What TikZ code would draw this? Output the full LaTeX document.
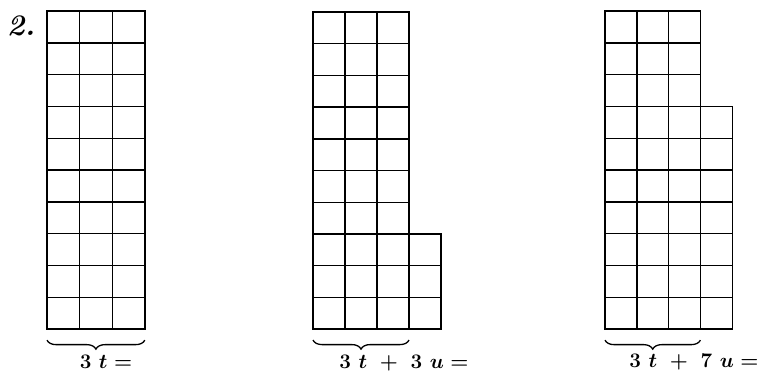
\documentclass[tikz,border=0pt]{standalone}
\usepackage{amsmath,amssymb}
\usepackage{tikz}
\usetikzlibrary{decorations.pathreplacing}

\begin{document}
\begin{tikzpicture}[
  x=1bp, y=-1bp,
  gridLine/.style={line width=1.4pt, line cap=rect},
  underBrace/.style={decorate, decoration={brace, mirror, amplitude=9bp},
                     line width=1.3pt},
  sumLabel/.style={font=\fontsize{20}{22}\selectfont\bfseries\boldmath,
                   inner sep=0pt},
  exNumber/.style={font=\fontsize{30}{30}\selectfont\bfseries\itshape,
                   inner sep=0pt}
]
  \useasboundingbox (0,0) rectangle (761,373);

  % exercise number
  \node[exNumber] (exNum) at (21,26) {2.};

  % first figure: three columns of ten
  \begin{scope}[shift={(47,11)}, x=32.6bp, y=-31.8bp]
    \foreach \c in {0,...,3} \draw[gridLine] (\c,0) -- (\c,10);
    \foreach \r in {0,...,10} \draw[gridLine] (0,\r) -- (3,\r);
    \coordinate (aL) at (0,10.35);
    \coordinate (aR) at (3,10.35);
  \end{scope}

  % second figure: three columns of ten and three more
  \begin{scope}[shift={(313,12)}, x=32bp, y=-31.7bp]
    \foreach \c in {0,...,3} \draw[gridLine] (\c,0) -- (\c,10);
    \foreach \r in {0,...,10} \draw[gridLine] (0,\r) -- (3,\r);
    \draw[gridLine] (4,7) -- (4,10);
    \foreach \r in {7,...,10} \draw[gridLine] (3,\r) -- (4,\r);
    \coordinate (bL) at (0,10.35);
    \coordinate (bR) at (3,10.35);
  \end{scope}

  % third figure: three columns of ten and seven more
  \begin{scope}[shift={(605,11)}, x=31.8bp, y=-31.8bp]
    \foreach \c in {0,...,3} \draw[gridLine] (\c,0) -- (\c,10);
    \foreach \r in {0,...,10} \draw[gridLine] (0,\r) -- (3,\r);
    \draw[gridLine] (4,3) -- (4,10);
    \foreach \r in {3,...,10} \draw[gridLine] (3,\r) -- (4,\r);
    \coordinate (cL) at (0,10.35);
    \coordinate (cR) at (3,10.35);
  \end{scope}

  % braces under the tens
  \draw[underBrace] (aL) -- (aR);
  \draw[underBrace] (bL) -- (bR);
  \draw[underBrace] (cL) -- (cR);

  % sums
  \node[sumLabel] (sumA) at (106,362) {$3\ t =$};
  \node[sumLabel] (sumB) at (404,363) {$3\ t\ +\ 3\ u =$};
  \node[sumLabel] (sumC) at (694,362) {$3\ t\ +\ 7\ u =$};
\end{tikzpicture}
\end{document}
